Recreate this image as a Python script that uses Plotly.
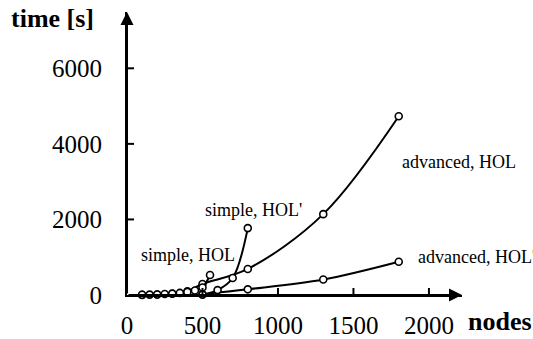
import plotly.graph_objects as go

# ---- data ----
simple_hol_x = [100, 150, 200, 250, 300, 350, 400, 450, 500, 550]
simple_hol_y = [5, 10, 15, 25, 35, 55, 80, 120, 200, 530]

simple_holp_x = [500, 600, 700, 800]
simple_holp_y = [10, 130, 450, 1770]

adv_hol_x = [100, 200, 300, 400, 500, 800, 1300, 1800]
adv_hol_y = [2, 15, 40, 100, 290, 690, 2140, 4730]

adv_holp_x = [500, 800, 1300, 1800]
adv_holp_y = [20, 150, 410, 880]

x_ticks = [0, 500, 1000, 1500, 2000]
y_ticks = [0, 2000, 4000, 6000]

labels = [
    ("advanced, HOL", 1808, 3520),
    ("advanced, HOL'", 1914, 1006),
    ("simple, HOL'", 503, 2250),
    ("simple, HOL", 79, 1059),
]

X_MAX = 2219
Y_MAX = 7490
SERIF = "Liberation Serif"

W, H = 533, 339
L, R, T, B = 127, 533 - 462, 12, 339 - 295
PW, PH = W - L - R, H - T - B

fig = go.Figure()

series = [
    (adv_hol_x, adv_hol_y),
    (adv_holp_x, adv_holp_y),
    (simple_holp_x, simple_holp_y),
    (simple_hol_x, simple_hol_y),
]
for xs, ys in series:
    fig.add_trace(go.Scatter(
        x=xs, y=ys, mode="lines+markers",
        line=dict(color="black", width=2, shape="spline", smoothing=1.0),
        marker=dict(symbol="circle", size=7, color="white",
                    line=dict(color="black", width=1.6)),
        cliponaxis=False, showlegend=False, hoverinfo="skip",
    ))

shapes = []
for v in y_ticks[1:]:
    shapes.append(dict(type="line", xref="x", yref="y", xsizemode="pixel",
                       xanchor=0, x0=-7, x1=7, y0=v, y1=v,
                       line=dict(color="black", width=2)))
for v in x_ticks[1:]:
    shapes.append(dict(type="line", xref="x", yref="y", ysizemode="pixel",
                       yanchor=0, y0=-7, y1=7, x0=v, x1=v,
                       line=dict(color="black", width=2)))

annotations = []
# axis arrows
annotations.append(dict(x=X_MAX, y=0, ax=0, ay=0, axref="x", ayref="y",
                        xref="x", yref="y", text="", showarrow=True,
                        arrowhead=2, arrowsize=1.3, arrowwidth=2,
                        arrowcolor="black"))
annotations.append(dict(x=0, y=Y_MAX, ax=0, ay=0, axref="x", ayref="y",
                        xref="x", yref="y", text="", showarrow=True,
                        arrowhead=2, arrowsize=1.3, arrowwidth=2,
                        arrowcolor="black"))
for text, x, y in labels:
    annotations.append(dict(x=x, y=y, xref="x", yref="y", text=text,
                            showarrow=False, xanchor="left", yanchor="middle",
                            font=dict(family=SERIF, size=18, color="black")))
# axis titles (paper coordinates, outside the plot area)
annotations.append(dict(x=(9 - L) / PW, y=(H - B - 19) / PH,
                        xref="paper", yref="paper",
                        text="<b>time [s]</b>", showarrow=False,
                        xanchor="left", yanchor="middle",
                        font=dict(family=SERIF, size=26, color="black")))
annotations.append(dict(x=(466 - L) / PW, y=(H - B - 321) / PH,
                        xref="paper", yref="paper",
                        text="<b>nodes</b>", showarrow=False,
                        xanchor="left", yanchor="middle",
                        font=dict(family=SERIF, size=26, color="black")))

fig.update_layout(
    width=W, height=H,
    margin=dict(l=L, r=R, t=T, b=B, pad=0),
    paper_bgcolor="white", plot_bgcolor="white",
    font=dict(family=SERIF, color="black"),
    xaxis=dict(range=[0, X_MAX], showgrid=False, zeroline=False,
               automargin=False,
               showline=True, linecolor="black", linewidth=2,
               tickvals=x_ticks, ticktext=[str(v) for v in x_ticks],
               ticks="", ticklabelstandoff=7,
               tickfont=dict(family=SERIF, size=25, color="black")),
    yaxis=dict(range=[0, Y_MAX], showgrid=False, zeroline=False,
               automargin=False,
               showline=True, linecolor="black", linewidth=2,
               tickvals=y_ticks, ticktext=[str(v) for v in y_ticks],
               ticks="", ticklabelstandoff=18,
               tickfont=dict(family=SERIF, size=25, color="black")),
    shapes=shapes, annotations=annotations,
)

fig.write_html("out.html")
